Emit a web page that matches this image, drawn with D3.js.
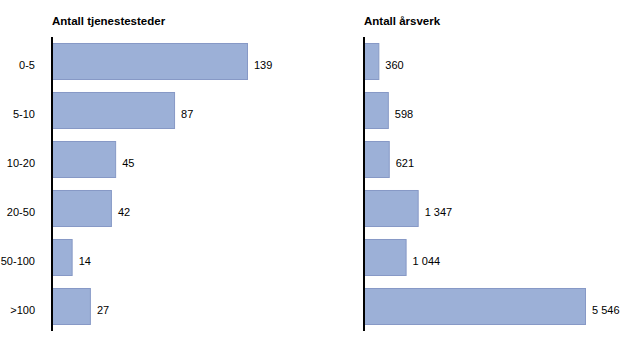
<!DOCTYPE html>
<html><head><meta charset="utf-8">
<script src="https://cdn.jsdelivr.net/npm/d3@7"></script>
<style>body{margin:0;background:#fff}svg{display:block}text{font-family:"Liberation Sans",Arial,sans-serif}</style>
</head><body><svg id="c" width="620" height="347"></svg>
<script>
const categories = ["0-5","5-10","10-20","20-50","50-100",">100"];
const tjenestesteder = [139,87,45,42,14,27];
const aarsverk = [360,598,621,1347,1044,5546];
const titles = ["Antall tjenestesteder","Antall årsverk"];

const svg = d3.select("#c");
const fmt = v => d3.format(",")(v).replace(/,/g," ");
const y = d3.scaleBand().domain(categories).range([37,331]).paddingInner(0.265).paddingOuter(0.1325);

function panel(x0, values, xScale, title, showCats){
  const g = svg.append("g");
  g.append("text").attr("x", x0).attr("y", 25).attr("font-size", 11.5).attr("font-weight","bold").attr("fill","#000").text(title);
  g.selectAll("rect").data(values).join("rect")
    .attr("x", x0+0.5).attr("y", (d,i)=>y(categories[i]))
    .attr("width", d=>xScale(d)).attr("height", y.bandwidth())
    .attr("fill","#9cb0d7").attr("stroke","#8799c6").attr("stroke-width",1);
  g.selectAll("text.v").data(values).join("text").attr("class","v")
    .attr("x", d=>x0+xScale(d)+7).attr("y",(d,i)=>y(categories[i])+y.bandwidth()/2+7.5)
    .attr("font-size",11).attr("fill","#000").text(d=>fmt(d));
  if(showCats){
    g.selectAll("text.c").data(categories).join("text").attr("class","c")
      .attr("x", 35).attr("y", d=>y(d)+y.bandwidth()/2+7.5).attr("text-anchor","end")
      .attr("font-size",11).attr("fill","#000").text(d=>d);
  }
  g.append("line").attr("x1",x0).attr("x2",x0).attr("y1",37).attr("y2",331).attr("stroke","#000").attr("stroke-width",2);
}
const xL = d3.scaleLinear().domain([0,139]).range([0,195]);
const xR = d3.scaleLinear().domain([0,5546]).range([0,221]);
panel(52, tjenestesteder, xL, titles[0], true);
panel(364, aarsverk, xR, titles[1], false);
</script></body></html>
